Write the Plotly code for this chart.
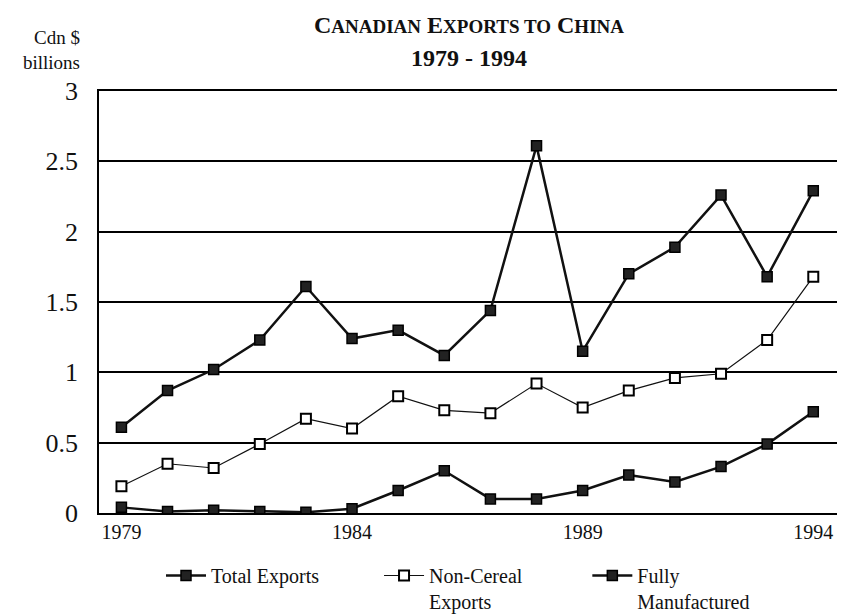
import plotly.graph_objects as go

years = list(range(1979, 1995))
total_exports = [0.61, 0.87, 1.02, 1.23, 1.61, 1.24, 1.30, 1.12,
                 1.44, 2.61, 1.15, 1.70, 1.89, 2.26, 1.68, 2.29]
non_cereal = [0.19, 0.35, 0.32, 0.49, 0.67, 0.60, 0.83, 0.73,
              0.71, 0.92, 0.75, 0.87, 0.96, 0.99, 1.23, 1.68]
fully_manufactured = [0.04, 0.01, 0.02, 0.01, 0.005, 0.03, 0.16, 0.30,
                      0.10, 0.10, 0.16, 0.27, 0.22, 0.33, 0.49, 0.72]
y_ticks = [0, 0.5, 1, 1.5, 2, 2.5, 3]
y_tick_labels = ["0", "0.5", "1", "1.5", "2", "2.5", "3"]
x_ticks = [1979, 1984, 1989, 1994]

FONT = "Liberation Serif"
NB = "&nbsp;"

# figure is drawn inside the page body (8px offset), so the figure is 8px smaller
W, H = 837, 608
L, R, T, B = 91, 7, 83, 103
PW, PH = W - L - R, H - T - B


def px(x):
    return (x - L) / PW


def py(y):
    return (H - B - y) / PH


fig = go.Figure()
fig.add_trace(go.Scatter(
    x=years, y=total_exports, name="Total Exports" + NB * 11,
    mode="lines+markers",
    line=dict(color="#111", width=2.5),
    marker=dict(symbol="square", size=10, color="#222", line=dict(color="#000", width=1.5)),
))
fig.add_trace(go.Scatter(
    x=years, y=non_cereal, name="Non-Cereal" + NB * 12 + "<br>Exports",
    mode="lines+markers",
    line=dict(color="#111", width=1.2),
    marker=dict(symbol="square", size=10, color="white", line=dict(color="#000", width=2)),
))
fig.add_trace(go.Scatter(
    x=years, y=fully_manufactured, name="Fully<br>Manufactured",
    mode="lines+markers",
    line=dict(color="#111", width=2.5),
    marker=dict(symbol="square", size=10, color="#222", line=dict(color="#000", width=1.5)),
))

S = "<span style='font-size:19px'>"
fig.update_layout(
    width=W, height=H,
    margin=dict(l=L, r=R, t=T, b=B),
    paper_bgcolor="white", plot_bgcolor="white",
    font=dict(family=FONT, color="#111"),
    showlegend=True,
    legend=dict(
        orientation="h", x=153 / W, y=1 - 548 / H, xref="container", yref="container",
        xanchor="left", yanchor="top",
        font=dict(family=FONT, size=20, color="#111"),
        valign="top", itemwidth=40, tracegroupgap=0,
    ),
    annotations=[
        dict(text="<b>C" + S + "ANADIAN</span> E" + S + "XPORTS TO</span> C" + S + "HINA</span></b>",
             xref="paper", yref="paper", x=px(461), y=py(17),
             xanchor="center", yanchor="middle", showarrow=False,
             font=dict(family=FONT, size=24, color="#111")),
        dict(text="<b>1979 - 1994</b>",
             xref="paper", yref="paper", x=px(461), y=py(50),
             xanchor="center", yanchor="middle", showarrow=False,
             font=dict(family=FONT, size=24, color="#111")),
        dict(text="Cdn $<br>billions", xref="paper", yref="paper",
             x=px(74), y=py(42), xanchor="right", yanchor="middle",
             align="right", showarrow=False,
             font=dict(family=FONT, size=19, color="#111")),
    ],
)

fig.update_xaxes(
    range=[1978.514, 1994.536], tickvals=x_ticks, ticktext=[str(v) for v in x_ticks],
    showgrid=False, zeroline=False, automargin=False,
    showline=True, linecolor="#000", linewidth=1.5, mirror=True,
    ticks="", tickfont=dict(family=FONT, size=20, color="#111"),
)
fig.update_yaxes(
    range=[0, 3], tickvals=y_ticks, ticktext=y_tick_labels,
    showgrid=True, gridcolor="#000", gridwidth=1.5, zeroline=False, automargin=False,
    showline=True, linecolor="#000", linewidth=1.5, mirror=True,
    ticks="", ticklabelstandoff=14,
    tickfont=dict(family=FONT, size=26, color="#111"),
)

fig.write_html("out.html")
